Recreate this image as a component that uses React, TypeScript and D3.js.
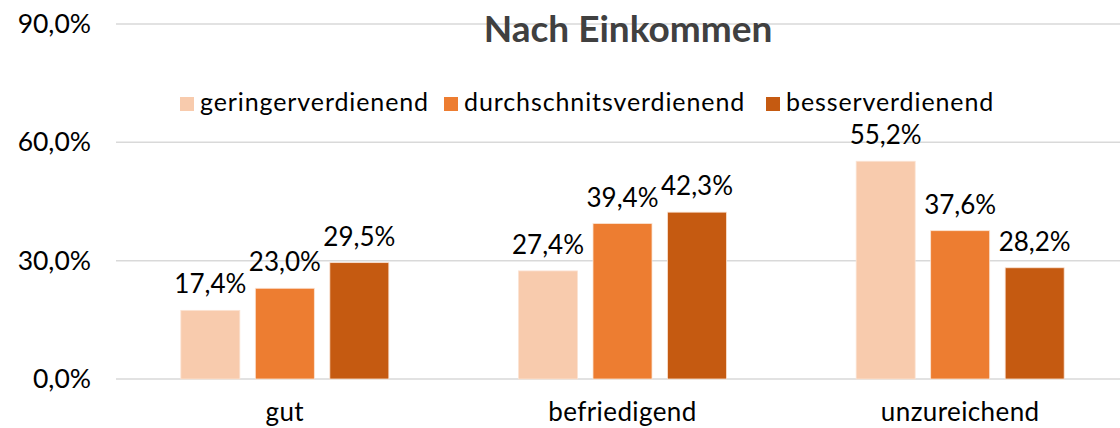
import React from "react";
import * as d3 from "d3";

const categories = ["gut", "befriedigend", "unzureichend"];
const seriesNames = ["geringerverdienend", "durchschnitsverdienend", "besserverdienend"];
const geringer = [17.4, 27.4, 55.2];
const durchschnitt = [23.0, 39.4, 37.6];
const besser = [29.5, 42.3, 28.2];
const yTicks = [0, 30, 60, 90];
const colors = ["#F8CBAD", "#ED7D31", "#C55A11"];
const title = "Nach Einkommen";

const W = 1120;
const H = 428;
const FONT = "Lato, 'Open Sans', sans-serif";

export default function App() {
  const seriesValues = [geringer, durchschnitt, besser];
  const y = d3.scaleLinear().domain([0, 90]).range([379, 24]);
  const x = d3.scaleBand<string>().domain(categories).range([116, 1129]).paddingInner(0).paddingOuter(0);
  const fmt = (v: number) => d3.format(".1f")(v).replace(".", ",") + "%";
  const legendX = [180, 444, 766];

  return (
    <svg width={W} height={H} style={{ position: "absolute", left: 0, top: 0, background: "#fff" }}>
      <rect x={0} y={0} width={W} height={H} fill="#fff" />
      {yTicks.map((t) => (
        <g key={t}>
          <line x1={116} x2={W} y1={y(t)} y2={y(t)} stroke="#d9d9d9" strokeWidth={1.5} />
          <text x={91} y={y(t) + 9} textAnchor="end" fontFamily={FONT} fontSize={26.5} fill="#000">
            {fmt(t)}
          </text>
        </g>
      ))}
      <text x={628} y={42} textAnchor="middle" fontFamily={FONT} fontSize={37} fontWeight={700} fill="#404040">
        {title}
      </text>
      {seriesNames.map((s, i) => (
        <g key={s}>
          <rect x={legendX[i]} y={97} width={14} height={14} fill={colors[i]} />
          <text x={legendX[i] + 20} y={111} fontFamily={FONT} fontSize={25} letterSpacing={0.9} fill="#000">
            {s}
          </text>
        </g>
      ))}
      {categories.map((c, ci) => {
        const cx = (x(c) as number) + x.bandwidth() / 2;
        const inner = d3.scaleBand<string>().domain(seriesNames).range([cx - 104, cx + 104]).paddingInner(0.208);
        return (
          <g key={c}>
            {seriesNames.map((s, si) => {
              const v = seriesValues[si][ci];
              const bx = inner(s) as number;
              const bw = inner.bandwidth();
              return (
                <g key={s}>
                  <rect x={bx} y={y(v)} width={bw} height={y(0) - y(v)} fill={colors[si]} stroke="#fbe3d3" strokeWidth={0.8} />
                  <text x={bx + bw / 2} y={y(v) - 17} textAnchor="middle" fontFamily={FONT} fontSize={26} fill="#000">
                    {fmt(v)}
                  </text>
                </g>
              );
            })}
            <text x={cx} y={421} textAnchor="middle" fontFamily={FONT} fontSize={26} letterSpacing={0.4} fill="#000">
              {c}
            </text>
          </g>
        );
      })}
    </svg>
  );
}
